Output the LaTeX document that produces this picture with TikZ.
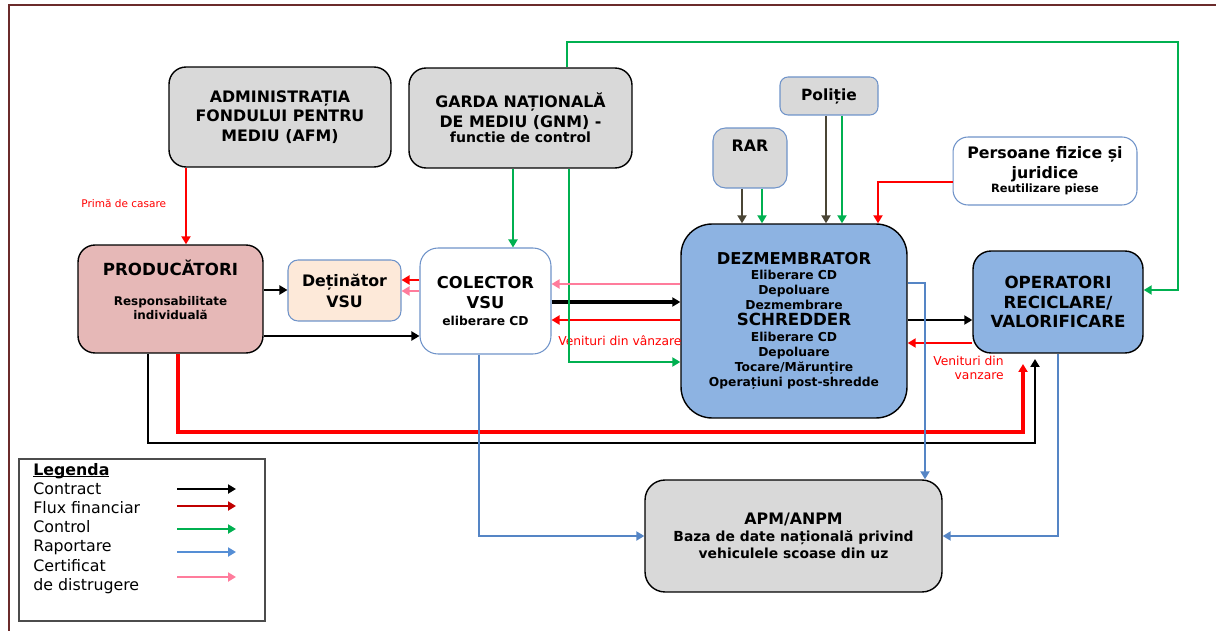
\documentclass[tikz,border=0pt]{standalone}
\usepackage{fontspec}
\setmainfont{DejaVu Sans}
\usetikzlibrary{arrows.meta}
\definecolor{boxgray}{HTML}{D9D9D9}
\definecolor{prodfill}{HTML}{E6B8B7}
\definecolor{detfill}{HTML}{FDE9D9}
\definecolor{dezfill}{HTML}{8DB3E2}
\definecolor{edgeblue}{HTML}{6F93C9}
\definecolor{ctrgreen}{HTML}{00B050}
\definecolor{finred}{HTML}{FF0000}
\definecolor{legred}{HTML}{C00000}
\definecolor{repblue}{HTML}{5585C5}
\definecolor{legblue}{HTML}{558ED5}
\definecolor{certpink}{HTML}{FF7C9C}
\definecolor{polarrow}{HTML}{4A4535}
\definecolor{framecol}{HTML}{6B2B2B}
\newcommand{\lowuline}[1]{\setbox0\hbox{#1}\leavevmode\rlap{\rule[-1.2pt]{\wd0}{0.6pt}}\copy0}

\begin{document}
\begin{tikzpicture}[x=0.02cm,y=-0.02cm,>={Triangle[length=1.6mm,width=1.8mm]}]
    % styles
    \tikzset{box/.style={draw=black,line width=0.8pt,rounded corners=0.34cm,align=center,inner sep=1pt},
             bluebox/.style={draw=edgeblue,line width=0.6pt,rounded corners=0.25cm,align=center,inner sep=1pt},
             bigfont/.style={font=\bfseries\fontsize{9}{11}\selectfont},
             flowline/.style={line width=1.4pt,->},
             contractline/.style={flowline,draw=black},
             finline/.style={flowline,draw=finred},
             ctrlline/.style={flowline,draw=ctrgreen},
             repline/.style={flowline,draw=repblue},
             certline/.style={flowline,draw=certpink},
             polline/.style={flowline,draw=polarrow,line width=1.1pt},
             redlabel/.style={text=finred,font=\fontsize{7}{8.4}\selectfont,inner sep=0pt}}
    \useasboundingbox (0,0) rectangle (1216,631);
    \draw[framecol,line width=1.2pt] (9,631) -- (9,5) -- (1216,5);

    % nodes
    \node[box,fill=boxgray,bigfont,minimum width=4.44cm,minimum height=2cm] (afm) at (280,117)
        {ADMINISTRAȚIA\\FONDULUI PENTRU\\MEDIU (AFM)};
    \node[box,fill=boxgray,bigfont,minimum width=4.46cm,minimum height=2cm] (gnm) at (520.5,118)
        {GARDA NAȚIONALĂ\\DE MEDIU (GNM) -\\[-2pt]{\fontsize{8}{9}\selectfont functie de control}};
    \node[bluebox,fill=boxgray,bigfont,minimum width=1.48cm,minimum height=1.2cm,text depth=0.48cm] (rar) at (750,158) {RAR};
    \node[bluebox,fill=boxgray,font=\bfseries\fontsize{8.8}{10}\selectfont,rounded corners=0.16cm,
          minimum width=1.96cm,minimum height=0.76cm] (pol) at (829,96) {Poliție};
    \node[bluebox,fill=white,bigfont,rounded corners=0.3cm,minimum width=3.68cm,minimum height=1.36cm] (pers) at (1045,171)
        {Persoane fizice și\\juridice\\[-2.5pt]{\fontsize{6.5}{8}\selectfont Reutilizare piese}};
    \node[box,fill=prodfill,font=\bfseries\fontsize{6.8}{8}\selectfont,minimum width=3.7cm,minimum height=2.16cm,
          text depth=0.36cm] (prod) at (170.5,299)
        {{\fontsize{9.5}{11}\selectfont PRODUCĂTORI}\\[9pt]Responsabilitate\\individuală};
    \node[bluebox,fill=detfill,font=\bfseries\fontsize{9}{12}\selectfont,rounded corners=0.2cm,
          minimum width=2.26cm,minimum height=1.22cm] (det) at (344.5,290.5) {Deținător\\VSU};
    \node[bluebox,fill=white,font=\bfseries\fontsize{9.3}{11.5}\selectfont,rounded corners=0.36cm,
          minimum width=2.62cm,minimum height=2.12cm] (col) at (485.5,301)
        {COLECTOR\\VSU\\[-2pt]{\fontsize{7}{8}\selectfont eliberare CD}};
    \node[box,fill=dezfill,font=\bfseries\fontsize{7}{8.6}\selectfont,rounded corners=0.62cm,
          minimum width=4.52cm,minimum height=3.88cm] (dez) at (794,321)
        {{\fontsize{9.3}{11}\selectfont DEZMEMBRATOR}\\Eliberare CD\\Depoluare\\Dezmembrare\\[0.5pt]
         {\fontsize{9.5}{11}\selectfont SCHREDDER}\\[0.5pt]Eliberare CD\\Depoluare\\Tocare/Mărunțire\\Operațiuni post-shredde};
    \node[box,fill=dezfill,font=\bfseries\fontsize{9.5}{11.3}\selectfont,rounded corners=0.36cm,
          minimum width=3.4cm,minimum height=2.04cm] (op) at (1058,302)
        {OPERATORI\\RECICLARE/\\VALORIFICARE};
    \node[box,fill=boxgray,font=\bfseries\fontsize{7.9}{9.6}\selectfont,rounded corners=0.4cm,
          minimum width=5.94cm,minimum height=2.24cm] (apm) at (793.5,536)
        {{\fontsize{9}{11}\selectfont APM/ANPM}\\Baza de date națională privind\\vehiculele scoase din uz};

    % free ends
    \coordinate (finend) at (1023,364);
    \coordinate (conend) at (1035,359);

    % contract
    \draw[contractline] (prod.east |- 0,290) -- (det.west |- 0,290);
    \draw[contractline] (prod.east |- 0,336) -- (col.west |- 0,336);
    \draw[contractline,line width=1.8pt] (col.east |- 0,302) -- (dez.west |- 0,302);
    \draw[contractline] (dez.east |- 0,320) -- (op.west |- 0,320);
    \draw[contractline] (prod.south -| 148,0) |- (1035,443) -- (conend);

    % flux financiar
    \draw[finline] (afm.south -| 186,0) -- (prod.north -| 186,0);
    \draw[finline] (col.west |- 0,280) -- (det.east |- 0,280);
    \draw[finline] (dez.west |- 0,320) -- (col.east |- 0,320);
    \draw[finline] (op.west |- 0,343) -- (dez.east |- 0,343);
    \draw[finline] (pers.west |- 0,182) -| (dez.north -| 878,0);
    \draw[finline,line width=1.9pt] (prod.south -| 178,0) |- (1023,432) -- (finend);
    \node[redlabel,anchor=west,font=\fontsize{6}{7}\selectfont] (prima) at (81,204) {Primă de casare};
    \node[redlabel,anchor=west] (venit1) at (558,341) {Venituri din vânzare};
    \node[redlabel,anchor=east,align=right] (venit2) at (1004,368) {Venituri din\\vanzare};

    % control
    \draw[ctrlline] (gnm.south -| 513,0) -- (col.north -| 513,0);
    \draw[ctrlline] (gnm.south -| 569,0) |- (dez.west |- 0,362);
    \draw[ctrlline] (gnm.north -| 567,0) |- (1178,42) |- (op.east |- 0,290);
    \draw[ctrlline] (rar.south -| 762,0) -- (dez.north -| 762,0);
    \draw[ctrlline] (pol.south -| 842,0) -- (dez.north -| 842,0);
    \draw[polline] (rar.south -| 742,0) -- (dez.north -| 742,0);
    \draw[polline] (pol.south -| 826,0) -- (dez.north -| 826,0);

    % raportare
    \draw[repline] (col.south -| 479,0) |- (apm.west |- 0,536);
    \draw[repline] (dez.east |- 0,283) -| (apm.north -| 925,0);
    \draw[repline] (op.south -| 1058,0) |- (apm.east |- 0,536);

    % certificat de distrugere
    \draw[certline] (col.west |- 0,291) -- (det.east |- 0,291);
    \draw[certline] (dez.west |- 0,284) -- (col.east |- 0,284);

    % legend
    \node[draw=black!70,line width=0.6pt,minimum width=4.92cm,minimum height=3.24cm] (legbox) at (142,540) {};
    \node[anchor=north west,align=left,inner sep=0pt,font=\fontsize{9}{10.9}\selectfont] (legtext) at (33,463)
        {\lowuline{\textbf{Legenda}}\\Contract\\Flux financiar\\Control\\Raportare\\Certificat\\de distrugere};
    \foreach \yy/\cc in {489/black,506/legred,529/ctrgreen,552/legblue,577/certpink}
        \draw[line width=1.3pt,->,\cc] (177,\yy) -- (236,\yy);
\end{tikzpicture}
\end{document}
